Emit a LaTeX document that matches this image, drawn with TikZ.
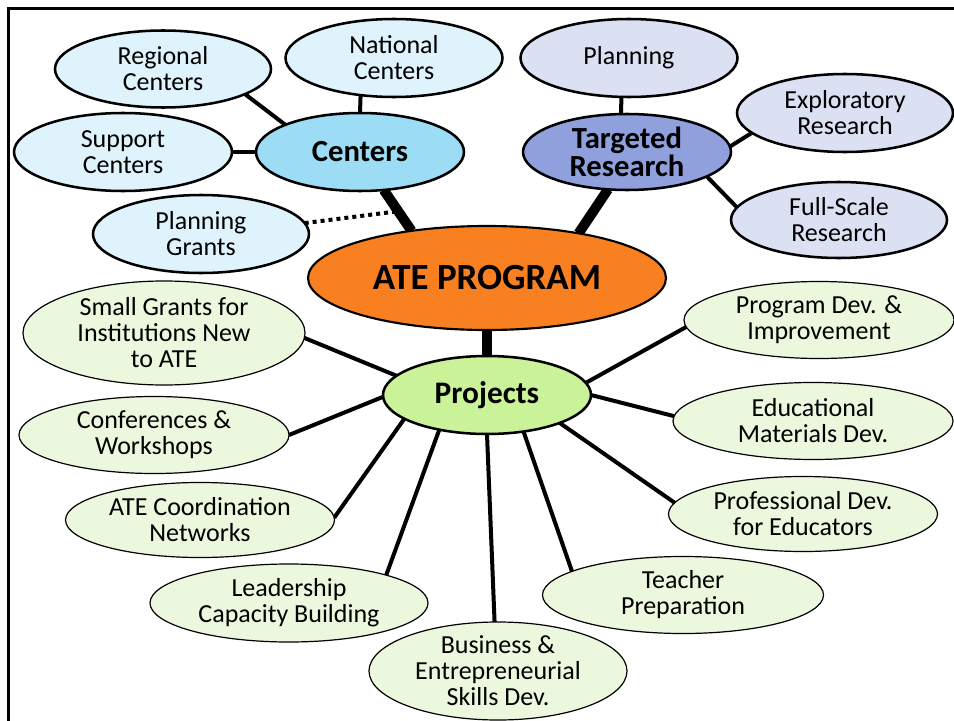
\documentclass[tikz,border=0pt]{standalone}
\usepackage{fontspec}
\setmainfont{Carlito}
\usetikzlibrary{shapes.geometric,backgrounds,calc}

\definecolor{leafblue}{HTML}{DFF3FC}
\definecolor{hubblue}{HTML}{9CDDF5}
\definecolor{leafviolet}{HTML}{DCE0F3}
\definecolor{hubviolet}{HTML}{8FA0DC}
\definecolor{coreorange}{HTML}{F98020}
\definecolor{hubgreen}{HTML}{C9F299}
\definecolor{leafgreen}{HTML}{EBF8DD}

\begin{document}
\begin{tikzpicture}[x=0.75pt,y=-0.75pt,
  oval/.style={ellipse,draw,inner sep=-40pt,outer sep=0pt,align=center},
  size/.style 2 args={minimum width=#1*0.75pt,minimum height=#2*0.75pt},
  leaftext/.style={font=\fontsize{19.5}{19.5}\selectfont},
  hubtext/.style={font=\bfseries\fontsize{23}{19}\selectfont},
  blueleaf/.style={oval,leaftext,fill=leafblue,line width=1.9pt},
  violetleaf/.style={oval,leaftext,fill=leafviolet,line width=1.9pt},
  greenleaf/.style={oval,leaftext,fill=leafgreen,line width=0.9pt},
  hub/.style={oval,hubtext,line width=1.9pt},
  link/.style={line width=3pt},
  trunk/.style={line width=7.5pt},
  dotlink/.style={line width=3pt,dash pattern=on 3pt off 3pt}
]
\useasboundingbox (0,0) rectangle (954,721);

% page frame
\draw[line width=2pt] (8.5,721) -- (8.5,8.5) -- (954,8.5);

% core
\node[oval,fill=coreorange,line width=1.6pt,size={358}{104},
      font=\bfseries\fontsize{27.7}{27.7}\selectfont] (ate) at (487,278) {ATE PROGRAM};

% centers branch
\node[hub,fill=hubblue,size={208}{78}] (centers) at (360,152) {Centers};
\node[blueleaf,size={216}{77}] (regional) at (163,69) {Regional\\Centers};
\node[blueleaf,size={217}{78}] (national) at (394,58) {National\\Centers};
\node[blueleaf,size={218}{78}] (support) at (123,152) {Support\\Centers};
\node[blueleaf,size={216}{78}] (pgrants) at (201,234) {Planning\\Grants};

% targeted research branch
\node[hub,fill=hubviolet,size={208}{76}] (tr) at (627,152) {Targeted\\Research};
\node[violetleaf,size={217}{78}] (planning) at (629,58) {Planning};
\node[violetleaf,size={216}{78}] (explor) at (845,113) {Exploratory\\Research};
\node[violetleaf,size={216}{76}] (fullscale) at (839,220) {Full-Scale\\Research};

% projects branch
\node[hub,fill=hubgreen,size={208}{78},font=\bfseries\fontsize{23.5}{23.5}\selectfont] (projects) at (487,395) {Projects};
\node[greenleaf,size={282}{104}] (smallg) at (164,333) {Small Grants for\\Institutions New\\to ATE};
\node[greenleaf,size={270}{77}] (conf) at (154,435) {Conferences \&\\Workshops};
\node[greenleaf,size={269}{75}] (coord) at (200,520) {ATE Coordination\\Networks};
\node[greenleaf,size={278}{78}] (leader) at (289,603) {Leadership\\Capacity Building};
\node[greenleaf,size={258}{98}] (business) at (498,671) {Business \&\\Entrepreneurial\\Skills Dev.};
\node[greenleaf,size={281}{77}] (teacher) at (683,595) {Teacher\\Preparation};
\node[greenleaf,size={270}{77}] (progdev) at (819,320) {Program Dev. \&\\Improvement};
\node[greenleaf,size={280}{77}] (edumat) at (813,421) {Educational\\Materials Dev.};
\node[greenleaf,size={269}{75}] (profdev) at (803,514) {Professional Dev.\\for Educators};

\begin{scope}[on background layer]
  % trunks from the core
  \coordinate (pgjoin) at ($(centers.-58.8)!0.52!(ate.148.7)$);
  \draw[dotlink] (pgrants.6.3) -- (pgjoin);
  \draw[trunk] (ate.148.7) -- (centers.-58.8);
  \draw[trunk] (ate.26.8) -- (tr.-117.8);
  \draw[trunk] (ate.south) -- (projects.north);

  % centers
  \draw[link] (centers.160.2) -- (regional.-17.6);
  \draw[link] (centers.90) -- (national.-132.7);
  \draw[link] (centers.180) -- (support.0);

  % targeted research
  \draw[link] (tr.99.2) -- (planning.-101.6);
  \draw[link] (tr.3.8) -- (explor.-168.5);
  \draw[link] (tr.-17.8) -- (fullscale.173.3);

  % projects
  \draw[link] (projects.168) -- (smallg.-2);
  \draw[link] (projects.181) -- (conf.0);
  \draw[link] (projects.-164) -- (coord.1);
  \draw[link] (projects.-144) -- (leader.16.3);
  \draw[link] (projects.-90) -- (business.94.7);
  \draw[link] (projects.-45.8) -- (teacher.168);
  \draw[link] (projects.-21.8) -- (profdev.175.6);
  \draw[link] (projects.-0.5) -- (edumat.178.8);
  \draw[link] (projects.7.4) -- (progdev.-177.4);
\end{scope}
\end{tikzpicture}
\end{document}
